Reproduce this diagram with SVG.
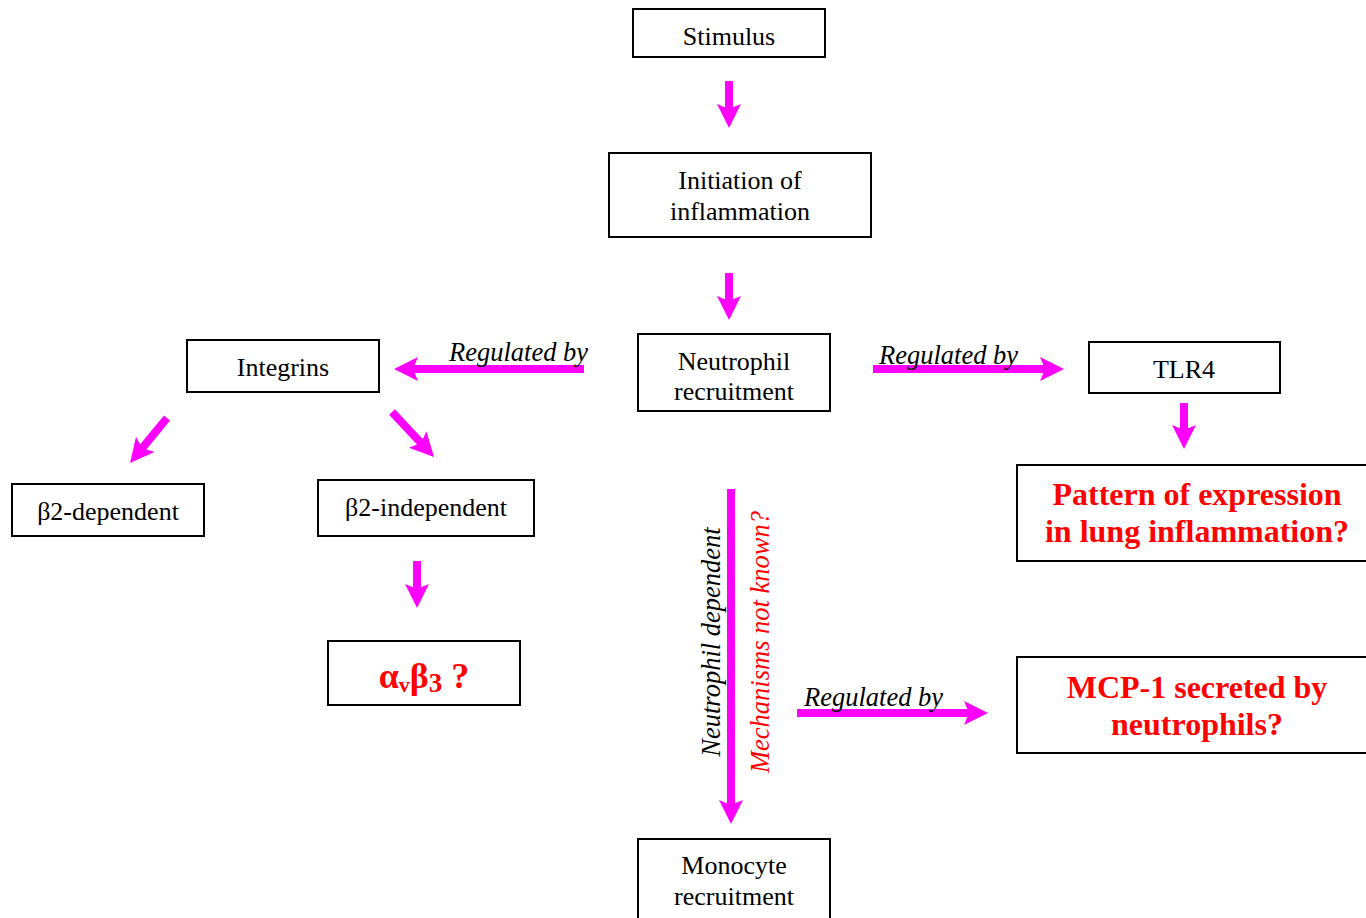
<svg xmlns="http://www.w3.org/2000/svg" width="1366" height="918" viewBox="0 0 1366 918">
<style>
.box{fill:#fff;stroke:#000;stroke-width:2}
.t{font-family:"Liberation Serif",serif;font-size:26px;fill:#000;text-anchor:middle}
.r{font-family:"Liberation Serif",serif;font-size:32px;font-weight:bold;fill:#ff0000;text-anchor:middle}
.i{font-family:"Liberation Serif",serif;font-size:26.5px;font-style:italic;fill:#000}
.ir{font-family:"Liberation Serif",serif;font-size:26.5px;font-style:italic;fill:#ff0000}
.a{stroke:#ff00ff;stroke-width:8;fill:none;marker-end:url(#ah)}
</style>
<defs>
<marker id="ah" markerUnits="userSpaceOnUse" markerWidth="26" markerHeight="26" refX="8" refY="12" orient="auto" viewBox="0 0 26 26">
<path d="M0,0 L24,12 L0,24 L5,12 z" fill="#ff00ff"/>
</marker>
</defs>
<rect width="1366" height="918" fill="#fff"/>
<g id="connectors">
<line class="a" x1="729" y1="81" x2="729" y2="112"/>
<line class="a" x1="729" y1="273" x2="729" y2="304"/>
<line class="a" x1="584" y1="369" x2="410" y2="369"/>
<line class="a" x1="873" y1="369" x2="1048" y2="369"/>
<line class="a" x1="1184" y1="403" x2="1184" y2="433"/>
<line class="a" x1="167" y1="418" x2="140.2" y2="450.6"/>
<line class="a" x1="392" y1="412" x2="423.1" y2="445.3"/>
<line class="a" x1="417" y1="561" x2="417" y2="592"/>
<line class="a" x1="731" y1="489" x2="731" y2="808"/>
<line class="a" x1="797" y1="713" x2="972" y2="713"/>
<text class="i" x="449" y="361">Regulated by</text>
<text class="i" x="879" y="364">Regulated by</text>
<text class="i" x="804" y="706">Regulated by</text>
<text class="i" transform="translate(720,642) rotate(-90)" text-anchor="middle">Neutrophil dependent</text>
<text class="ir" transform="translate(769,642) rotate(-90)" text-anchor="middle">Mechanisms not known?</text>
</g>
<g id="stimulus"><rect class="box" x="633" y="9" width="192" height="48"/><text class="t" x="729" y="45">Stimulus</text></g>
<g id="initiation"><rect class="box" x="609" y="153" width="262" height="84"/><text class="t" x="740" y="189">Initiation of</text><text class="t" x="740" y="220">inflammation</text></g>
<g id="neutrophil"><rect class="box" x="638" y="334" width="192" height="77"/><text class="t" x="734" y="370">Neutrophil</text><text class="t" x="734" y="400">recruitment</text></g>
<g id="integrins"><rect class="box" x="187" y="340" width="192" height="52"/><text class="t" x="283" y="376">Integrins</text></g>
<g id="tlr4"><rect class="box" x="1089" y="342" width="191" height="51"/><text class="t" x="1184" y="378">TLR4</text></g>
<g id="pattern"><rect class="box" x="1017" y="465" width="360" height="96"/><text class="r" x="1197" y="505">Pattern of expression</text><text class="r" x="1197" y="542">in lung inflammation?</text></g>
<g id="b2dep"><rect class="box" x="12" y="484" width="192" height="52"/><text class="t" x="108" y="520">β2-dependent</text></g>
<g id="b2indep"><rect class="box" x="318" y="480" width="216" height="56"/><text class="t" x="426" y="516">β2-independent</text></g>
<g id="avb3"><rect class="box" x="328" y="641" width="192" height="64"/><text class="r" x="424" y="688" style="font-size:36px">α<tspan font-size="22px" dy="4">v</tspan><tspan dy="-4">β</tspan><tspan font-size="27px" dy="4">3</tspan><tspan dy="-4"> ?</tspan></text></g>
<g id="mcp1"><rect class="box" x="1017" y="657" width="360" height="96"/><text class="r" x="1197" y="698">MCP-1 secreted by</text><text class="r" x="1197" y="735">neutrophils?</text></g>
<g id="monocyte"><rect class="box" x="638" y="839" width="192" height="90"/><text class="t" x="734" y="874">Monocyte</text><text class="t" x="734" y="905">recruitment</text></g>
</svg>
